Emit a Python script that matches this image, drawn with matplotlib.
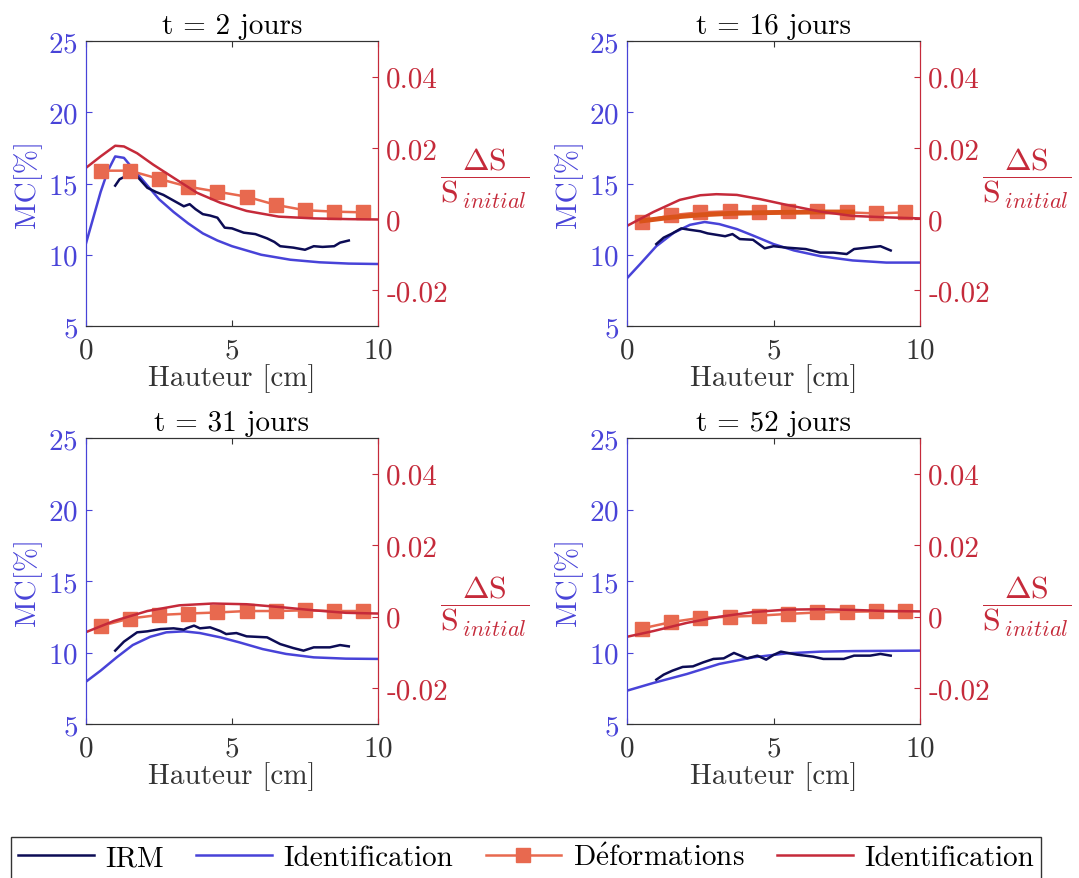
import matplotlib
matplotlib.use('Agg')
import matplotlib.pyplot as plt
from matplotlib.lines import Line2D

plt.rcParams['font.family'] = 'serif'
plt.rcParams['font.serif'] = ['cmr10']
plt.rcParams['mathtext.fontset'] = 'cm'
plt.rcParams['axes.formatter.use_mathtext'] = True

BLUE = '#4843d8'
NAVY = '#0c0c55'
ORANGE = '#e8694f'
DARKORANGE = '#d95319'
RED = '#c52a3a'
GREY = '#333333'

days = [2, 16, 31, 52]
x_def = [0.5, 1.5, 2.5, 3.5, 4.5, 5.5, 6.5, 7.5, 8.5, 9.5]

# t = 2 jours
id_mc_x_2 = [0, 0.25, 0.5, 0.75, 1.0, 1.3, 1.5, 2, 2.5, 3, 3.5, 4, 4.5, 5, 6, 7, 8, 9, 10]
id_mc_y_2 = [10.8, 12.6, 14.4, 15.9, 16.9, 16.8, 16.3, 15.1, 13.9, 13.0, 12.2, 11.5, 11.0, 10.6, 10.0, 9.65, 9.47, 9.38, 9.35]
irm_x_2 = [1.0, 1.15, 1.35, 1.55, 1.75, 2.1, 2.4, 2.65, 3.0, 3.35, 3.55, 3.75, 4.0, 4.25, 4.5, 4.75,
           5.0, 5.4, 5.8, 6.2, 6.45, 6.65, 7.1, 7.5, 7.8, 8.1, 8.5, 8.7, 9.0]
irm_y_2 = [14.85, 15.3, 15.5, 15.55, 15.5, 14.7, 14.4, 14.2, 13.8, 13.4, 13.55, 13.2, 12.85, 12.75, 12.6, 11.9,
           11.85, 11.55, 11.45, 11.15, 10.9, 10.6, 10.5, 10.35, 10.6, 10.55, 10.6, 10.85, 11.0]
def_y_2 = [0.0136, 0.0136, 0.0113, 0.0091, 0.0077, 0.0063, 0.0040, 0.0025, 0.0021, 0.0019]
id_ds_x_2 = [0, 0.5, 1.0, 1.3, 1.75, 2.3, 3.0, 3.8, 4.6, 5.5, 6.6, 7.8, 9, 10]
id_ds_y_2 = [0.0144, 0.0176, 0.0206, 0.0204, 0.0185, 0.0153, 0.0116, 0.0074, 0.0046, 0.0023, 0.0007, 0.0002, 0.0, -0.0001]

# t = 16 jours
id_mc_x_16 = [0, 0.45, 1.0, 1.6, 2.15, 2.65, 3.15, 3.75, 4.3, 5.0, 5.7, 6.6, 7.7, 8.85, 10]
id_mc_y_16 = [8.35, 9.35, 10.6, 11.55, 12.1, 12.3, 12.15, 11.8, 11.35, 10.75, 10.3, 9.9, 9.6, 9.45, 9.45]
irm_x_16 = [1.0, 1.25, 1.55, 1.85, 2.15, 2.5, 2.75, 3.05, 3.35, 3.6, 3.85, 4.3, 4.7, 5.0, 5.45, 6.1,
            6.6, 7.05, 7.5, 7.75, 8.2, 8.65, 9.0]
irm_y_16 = [10.75, 11.2, 11.5, 11.85, 11.75, 11.65, 11.5, 11.4, 11.3, 11.45, 11.1, 11.05, 10.45, 10.6, 10.5, 10.4,
            10.15, 10.15, 10.05, 10.4, 10.5, 10.6, 10.3]
def_y_16 = [-0.0007, 0.0011, 0.0019, 0.0022, 0.0019, 0.0022, 0.0022, 0.0019, 0.0016, 0.0019]
trend_x_16 = [0.5, 1.5, 2.5, 3.5, 4.5, 5.5, 6.5, 7.7]
trend_y_16 = [-0.0005, 0.0005, 0.0012, 0.0016, 0.0018, 0.0019, 0.0020, 0.0020]
id_ds_x_16 = [0, 0.9, 1.8, 2.5, 3.05, 3.75, 4.55, 5.45, 6.6, 7.7, 8.85, 10]
id_ds_y_16 = [-0.0019, 0.002, 0.0054, 0.0067, 0.0070, 0.0068, 0.0056, 0.0040, 0.0021, 0.0009, 0.0005, 0.0002]

# t = 31 jours
id_mc_x_31 = [0, 0.5, 1.05, 1.6, 2.2, 2.75, 3.35, 3.9, 4.6, 5.25, 6.05, 6.85, 7.8, 8.9, 10]
id_mc_y_31 = [7.96, 8.73, 9.66, 10.52, 11.1, 11.41, 11.48, 11.36, 11.06, 10.71, 10.24, 9.9, 9.66, 9.57, 9.55]
irm_x_31 = [1.0, 1.3, 1.75, 2.1, 2.55, 3.0, 3.35, 3.45, 3.7, 3.9, 4.25, 4.6, 4.8, 5.15, 5.5, 6.2,
            6.65, 7.1, 7.45, 7.8, 8.35, 8.7, 9.0]
irm_y_31 = [10.13, 10.76, 11.41, 11.48, 11.64, 11.69, 11.6, 11.7, 11.88, 11.69, 11.76, 11.5, 11.29, 11.36, 11.13, 11.06,
            10.59, 10.31, 10.13, 10.36, 10.36, 10.52, 10.43]
def_y_31 = [-0.0026, -0.0005, 0.0005, 0.0009, 0.0012, 0.0016, 0.0016, 0.0018, 0.0016, 0.0016]
id_ds_x_31 = [0, 0.95, 2.1, 3.2, 4.35, 5.5, 6.65, 7.8, 8.9, 10]
id_ds_y_31 = [-0.0043, -0.0012, 0.0016, 0.0032, 0.0037, 0.0035, 0.0027, 0.0018, 0.0011, 0.0009]

# t = 52 jours
id_mc_x_52 = [0, 0.9, 2.05, 3.15, 4.3, 5.45, 6.6, 7.75, 10]
id_mc_y_52 = [7.33, 7.87, 8.5, 9.2, 9.66, 9.94, 10.06, 10.1, 10.13]
irm_x_52 = [1.0, 1.25, 1.55, 1.9, 2.25, 2.6, 2.95, 3.3, 3.65, 4.1, 4.45, 4.75, 5.0, 5.25, 5.8, 6.35,
            6.7, 7.4, 7.75, 8.3, 8.65, 9.0]
irm_y_52 = [8.1, 8.45, 8.73, 8.99, 9.03, 9.31, 9.55, 9.59, 9.97, 9.59, 9.78, 9.5, 9.83, 10.06, 9.85, 9.71,
            9.55, 9.55, 9.78, 9.78, 9.9, 9.78]
def_y_52 = [-0.0033, -0.0015, -0.0003, 0.0, 0.0003, 0.0008, 0.0012, 0.0014, 0.0015, 0.0015]
id_ds_x_52 = [0, 0.9, 2.05, 3.15, 4.3, 5.45, 6.6, 7.75, 8.9, 10]
id_ds_y_52 = [-0.0056, -0.004, -0.0017, 0.0, 0.0013, 0.002, 0.0021, 0.0019, 0.0016, 0.0015]

panels = [
    (id_mc_x_2, id_mc_y_2, irm_x_2, irm_y_2, def_y_2, id_ds_x_2, id_ds_y_2),
    (id_mc_x_16, id_mc_y_16, irm_x_16, irm_y_16, def_y_16, id_ds_x_16, id_ds_y_16),
    (id_mc_x_31, id_mc_y_31, irm_x_31, irm_y_31, def_y_31, id_ds_x_31, id_ds_y_31),
    (id_mc_x_52, id_mc_y_52, irm_x_52, irm_y_52, def_y_52, id_ds_x_52, id_ds_y_52),
]

W, H = 1079, 879
boxes = [(86, 42, 378, 327), (627, 42, 920, 327), (86, 439, 378, 725), (627, 439, 920, 725)]
frac_y = [0.52, 0.52, 0.415, 0.415]

fig = plt.figure(figsize=(W / 100, H / 100), dpi=100)
FS = 21

for i, (day, data) in enumerate(zip(days, panels)):
    mx, my, ix, iy, dy, rx, ry = data
    l, t, r, b = boxes[i]
    ax = fig.add_axes([l / W, 1 - b / H, (r - l) / W, (b - t) / H])
    ax2 = ax.twinx()

    ax.plot(mx, my, color=BLUE, lw=1.8)
    ax.plot(ix, iy, color=NAVY, lw=1.8)

    ax2.plot(x_def, dy, color=ORANGE, lw=1.8, marker='s', ms=10, mec=ORANGE, mfc=ORANGE)
    if day == 16:
        ax2.plot(trend_x_16, trend_y_16, color=DARKORANGE, lw=3.5)
    ax2.plot(rx, ry, color=RED, lw=1.8)

    ax.set_xlim(0, 10)
    ax.set_ylim(5, 25)
    ax2.set_ylim(-0.03, 0.05)
    ax.set_xticks([0, 5, 10])
    ax.set_yticks([5, 10, 15, 20, 25])
    ax2.set_yticks([-0.02, 0, 0.02, 0.04])
    ax2.set_yticklabels(['-0.02', '0', '0.02', '0.04'])

    ax.tick_params(axis='x', direction='in', top=True, colors=GREY, labelsize=FS, length=4, pad=8)
    ax.tick_params(axis='y', direction='in', colors=BLUE, labelsize=FS, length=4, pad=6)
    ax2.tick_params(axis='y', direction='in', colors=RED, labelsize=FS, length=4, pad=6)

    for a in (ax, ax2):
        a.spines['top'].set_color(GREY)
        a.spines['bottom'].set_color(GREY)
        a.spines['left'].set_color(BLUE)
        a.spines['right'].set_color(RED)

    ax.set_xlabel('Hauteur [cm]', fontsize=FS, color=GREY, labelpad=0)
    ax.set_ylabel('MC[%]', fontsize=FS, color=BLUE, labelpad=4)
    ax.set_title('t = %d jours' % day, fontsize=FS, pad=6)
    ax2.text(1.365, frac_y[i], r'$\dfrac{\Delta\mathrm{S}}{\mathrm{S}_{\,initial}}$',
             transform=ax.transAxes, ha='center', va='center', color=RED, fontsize=23)

handles = [
    Line2D([], [], color=NAVY, lw=1.8),
    Line2D([], [], color=BLUE, lw=1.8),
    Line2D([], [], color=ORANGE, lw=1.8, marker='s', ms=10),
    Line2D([], [], color=RED, lw=1.8),
]
labels = ['IRM', 'Identification', r'D$\mathrm{\acute{e}}$formations', 'Identification']
leg = fig.legend(handles, labels, loc='upper center', bbox_to_anchor=(0.4875, 1 - 838 / H), ncol=4,
                 fontsize=FS, frameon=True, fancybox=False, edgecolor='black', handlelength=2.6,
                 handletextpad=0.4, columnspacing=1.1, borderpad=0.25, borderaxespad=0,
                 markerscale=1, numpoints=1)
leg.get_frame().set_linewidth(1.0)

fig.savefig('out.png', dpi=100)
